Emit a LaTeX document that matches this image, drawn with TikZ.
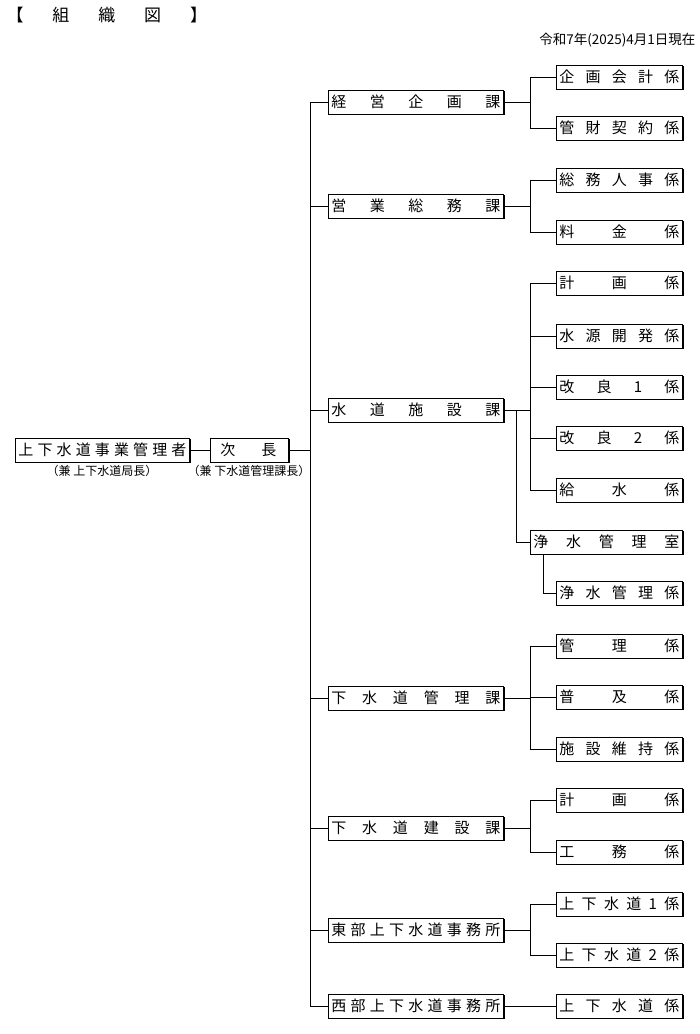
\documentclass[tikz,border=0pt]{standalone}
\usepackage{fontspec}
\newfontfamily\jp{Noto Sans CJK JP}
\usetikzlibrary{shadows}
\begin{document}
\begin{tikzpicture}[x=1pt,y=-1pt,
  bx/.style={draw,fill=white,line width=0.8pt,minimum height=24pt,inner xsep=3pt,inner ysep=0pt,anchor=west,
    font=\jp\fontsize{15}{15}\selectfont,general shadow={shadow xshift=1.2pt,shadow yshift=-1.2pt,fill=black}},
  div/.style={bx,text width=169pt},
  sub/.style={bx,text width=120pt},
  ln/.style={line width=0.8pt}]
\useasboundingbox (0,0) rectangle (700,1034);
\node[anchor=west,font=\jp\fontsize{17}{17}\selectfont] (title) at (3,15) {【\hspace{1.7em}組\hspace{1.7em}織\hspace{1.7em}図\hspace{1.7em}】};
\node[anchor=east,font=\jp\fontsize{13.5}{14}\selectfont] (date) at (699,40) {令和7年(2025)4月1日現在};
\newcommand\sj[1]{\makebox[\linewidth][s]{#1}}
\node[bx,text width=168pt] (top) at (15,450) {\sj{上\hfill 下\hfill 水\hfill 道\hfill 事\hfill 業\hfill 管\hfill 理\hfill 者}};
\node[bx,text width=72pt] (vice) at (210,450) {\hspace{7pt}\makebox[56pt][s]{次\hfill 長}};
\node[font=\jp\fontsize{12}{12}\selectfont] (topn) at (102,471) {（兼 上下水道局長）};
\node[font=\jp\fontsize{12}{12}\selectfont] (vicen) at (249,471) {（兼 下水道管理課長）};
\coordinate (trunk) at (310,450);
\draw[ln] (top) -- (vice); \draw[ln] (vice) -- (trunk);
\foreach \n/\y/\t in {d1/102/{経\hfill 営\hfill 企\hfill 画\hfill 課},d2/206/{営\hfill 業\hfill 総\hfill 務\hfill 課},d3/410/{水\hfill 道\hfill 施\hfill 設\hfill 課},d4/698/{下\hfill 水\hfill 道\hfill 管\hfill 理\hfill 課},d5/828/{下\hfill 水\hfill 道\hfill 建\hfill 設\hfill 課},d6/930/{東\hfill 部\hfill 上\hfill 下\hfill 水\hfill 道\hfill 事\hfill 務\hfill 所},d7/1006/{西\hfill 部\hfill 上\hfill 下\hfill 水\hfill 道\hfill 事\hfill 務\hfill 所}}{
  \node[div] (\n) at (328,\y) {\sj{\t}};
  \coordinate (\n t) at (310,\y);
  \draw[ln] (\n t) -- (\n.west);
}
\draw[ln] (d1t) -- (d7t);
\foreach \n/\y/\t in {s1/77/{企\hfill 画\hfill 会\hfill 計\hfill 係},s2/128/{管\hfill 財\hfill 契\hfill 約\hfill 係},s3/180/{総\hfill 務\hfill 人\hfill 事\hfill 係},s4/232/{料\hfill 金\hfill 係},s5/283/{計\hfill 画\hfill 係},s6/336/{水\hfill 源\hfill 開\hfill 発\hfill 係},s7/387/{改\hfill 良\hfill 1\hfill 係},s8/438/{改\hfill 良\hfill 2\hfill 係},s9/490/{給\hfill 水\hfill 係},s11/593/{浄\hfill 水\hfill 管\hfill 理\hfill 係},s12/646/{管\hfill 理\hfill 係},s13/697/{普\hfill 及\hfill 係},s14/749/{施\hfill 設\hfill 維\hfill 持\hfill 係},s15/800/{計\hfill 画\hfill 係},s16/852/{工\hfill 務\hfill 係},s17/904/{上\hfill 下\hfill 水\hfill 道\hfill 1\hfill 係},s18/955/{上\hfill 下\hfill 水\hfill 道\hfill 2\hfill 係},s19/1006/{上\hfill 下\hfill 水\hfill 道\hfill 係}}{
  \node[sub] (\n) at (556,\y) {\sj{\t}};
}
\node[bx,text width=146pt] (s10) at (530,542) {\sj{浄\hfill 水\hfill 管\hfill 理\hfill 室}};
\foreach \s/\y in {s1/77,s2/128,s3/180,s4/232,s5/283,s6/336,s7/387,s8/438,s9/490,s12/646,s13/697,s14/749,s15/800,s16/852,s17/904,s18/955}{
  \coordinate (\s b) at (530,\y); \draw[ln] (\s b) -- (\s.west);}
\foreach \d/\y in {d1/102,d2/206,d3/410,d4/698,d5/828,d6/930}{\coordinate (\d b) at (530,\y); \draw[ln] (\d.east) -- (\d b);}
\draw[ln] (s1b) -- (s2b); \draw[ln] (s3b) -- (s4b); \draw[ln] (s5b) -- (s9b);
\draw[ln] (s12b) -- (s14b); \draw[ln] (s15b) -- (s16b); \draw[ln] (s17b) -- (s18b);
\draw[ln] (d7) -- (s19);
\coordinate (j1) at (516,410); \coordinate (j2) at (516,542);
\draw[ln] (j1) -- (j2) -- (s10.west);
\coordinate (k1) at (543,554); \coordinate (k2) at (543,593);
\draw[ln] (k1) -- (k2) -- (s11.west);
\end{tikzpicture}
\end{document}
